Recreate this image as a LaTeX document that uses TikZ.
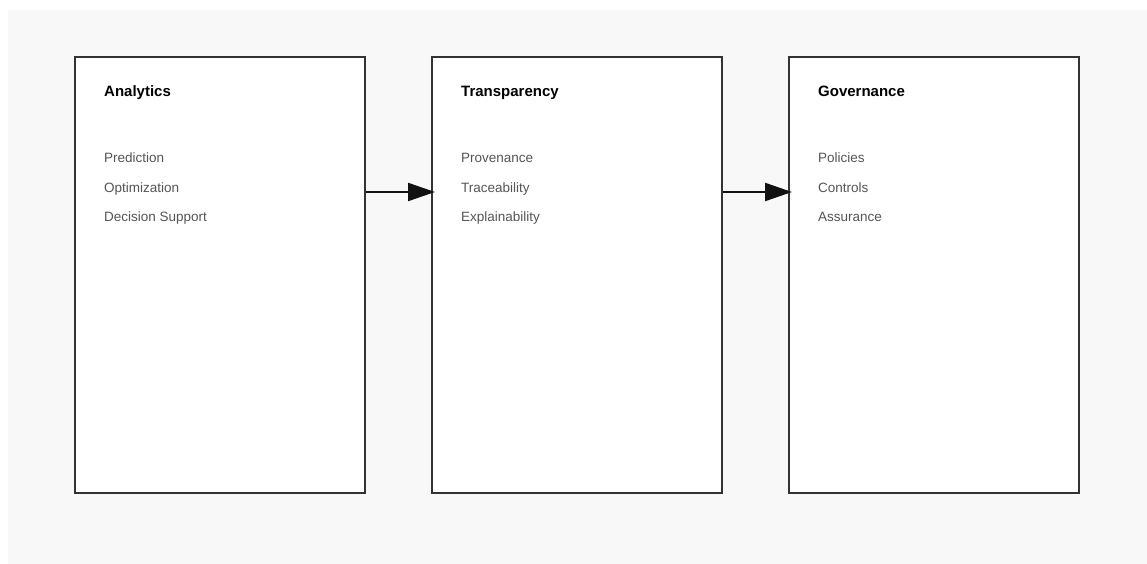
\documentclass[tikz,border=0pt]{standalone}
\usepackage{fontspec}
\setmainfont{Liberation Sans}
\usetikzlibrary{arrows.meta}
\definecolor{pagebg}{HTML}{F8F8F8}
\definecolor{boxline}{HTML}{333333}
\definecolor{itemtext}{HTML}{555555}
\definecolor{arrowcol}{HTML}{111111}
\begin{document}
\begin{tikzpicture}[x=1pt,y=-1pt,
  panel/.style={draw=boxline, line width=1.6pt, fill=white, minimum width=290pt, minimum height=436pt, inner sep=0pt, anchor=north west},
  paneltitle/.style={anchor=base west, inner sep=0pt, font=\fontsize{15}{18}\selectfont\bfseries, text=black},
  panelitem/.style={anchor=base west, inner sep=0pt, font=\fontsize{13.5}{16}\selectfont, text=itemtext},
  flow/.style={draw=arrowcol, line width=2.2pt, -{Triangle[length=27pt,width=18pt]}, shorten >=-4pt}]
  \useasboundingbox (0,0) rectangle (1147,564);
  \fill[pagebg] (8,10) rectangle (1147,564);

  % three panels
  \node[panel] (ana) at (74,56) {};
  \node[panel] (tra) at (431,56) {};
  \node[panel] (gov) at (788,56) {};

  % Analytics
  \node[paneltitle] (anaT) at (104,97) {Analytics};
  \node[panelitem] (ana1) at (104,163) {Prediction};
  \node[panelitem] (ana2) at (104,192) {Optimization};
  \node[panelitem] (ana3) at (104,221) {Decision Support};

  % Transparency
  \node[paneltitle] (traT) at (461,97) {Transparency};
  \node[panelitem] (tra1) at (461,163) {Provenance};
  \node[panelitem] (tra2) at (461,192) {Traceability};
  \node[panelitem] (tra3) at (461,221) {Explainability};

  % Governance
  \node[paneltitle] (govT) at (818,97) {Governance};
  \node[panelitem] (gov1) at (818,163) {Policies};
  \node[panelitem] (gov2) at (818,192) {Controls};
  \node[panelitem] (gov3) at (818,221) {Assurance};

  % flow between panels
  \coordinate (a1) at (ana.north east |- 0,192);
  \coordinate (b1) at (tra.north west |- 0,192);
  \coordinate (a2) at (tra.north east |- 0,192);
  \coordinate (b2) at (gov.north west |- 0,192);
  \draw[flow] (a1) -- (b1);
  \draw[flow] (a2) -- (b2);
\end{tikzpicture}
\end{document}
